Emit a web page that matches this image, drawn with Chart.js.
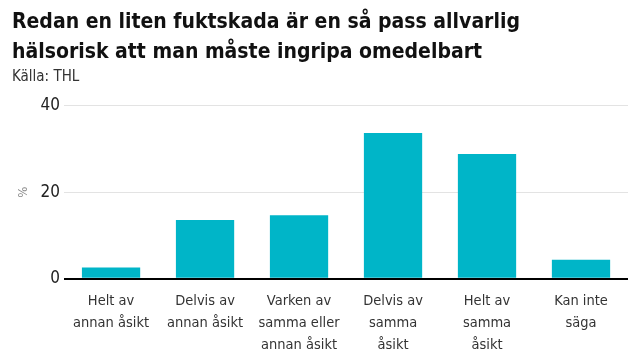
<!DOCTYPE html>
<html>
<head>
<meta charset="utf-8">
<script src="https://cdn.jsdelivr.net/npm/chart.js@4"></script>
<style>
  body { margin: 0; background: #fff; }
  #wrap { width: 640px; height: 360px; }
</style>
</head>
<body>
<div id="wrap"><canvas id="fuktskada"></canvas></div>
<script>
const kategorier = [
    ['Helt av', 'annan åsikt'],
    ['Delvis av', 'annan åsikt'],
    ['Varken av', 'samma eller', 'annan åsikt'],
    ['Delvis av', 'samma', 'åsikt'],
    ['Helt av', 'samma', 'åsikt'],
    ['Kan inte', 'säga']
];
const andelar = [2.6, 13.6, 14.7, 33.7, 28.8, 4.4];
const yTicks = [0, 20, 40];

const typsnitt = "'Liberation Sans Narrow', 'DejaVu Sans Condensed', sans-serif";

const fuktskada = document.getElementById('fuktskada');

new Chart(fuktskada, {
    type: 'bar',
    data: {
        labels: kategorier,
        datasets: [{
            label: '%',
            data: andelar,
            backgroundColor: '#00b5c8',
            barPercentage: 0.62,
            categoryPercentage: 1
        }]
    },
    options: {
        responsive: true,
        maintainAspectRatio: false,
        animation: false,
        layout: {
            padding: { left: 12, right: 12, top: 0, bottom: 0 }
        },
        scales: {
            x: {
                grid: { display: false },
                border: { display: false },
                ticks: {
                    color: '#333',
                    maxRotation: 0,
                    padding: 4,
                    font: { family: typsnitt, size: 14.5, lineHeight: 1.5 }
                }
            },
            y: {
                min: 0,
                max: 40,
                afterBuildTicks: (axis) => {
                    axis.ticks = yTicks.map(v => ({ value: v }));
                },
                grid: {
                    color: (ctx) => ctx.tick.value === 0 ? '#000' : '#e3e3e3',
                    lineWidth: (ctx) => ctx.tick.value === 0 ? 2 : 1,
                    drawTicks: false
                },
                border: { display: false },
                title: {
                    display: true,
                    text: '%',
                    color: '#888',
                    padding: { top: 4, bottom: 5 },
                    font: { family: typsnitt, size: 13 }
                },
                ticks: {
                    color: '#222',
                    padding: 4,
                    font: { family: typsnitt, size: 17 }
                }
            }
        },
        plugins: {
            legend: { display: false },
            tooltip: { enabled: false },
            title: {
                display: true,
                align: 'start',
                text: ['Redan en liten fuktskada är en så pass allvarlig', 'hälsorisk att man måste ingripa omedelbart'],
                color: '#111',
                padding: { top: 8, bottom: 0 },
                font: { family: typsnitt, size: 21, weight: 'bold', lineHeight: 1.42 }
            },
            subtitle: {
                display: true,
                align: 'start',
                text: 'Källa: THL',
                color: '#333',
                padding: { top: 0, bottom: 20 },
                font: { family: typsnitt, size: 15 }
            }
        }
    }
});
</script>
</body>
</html>
